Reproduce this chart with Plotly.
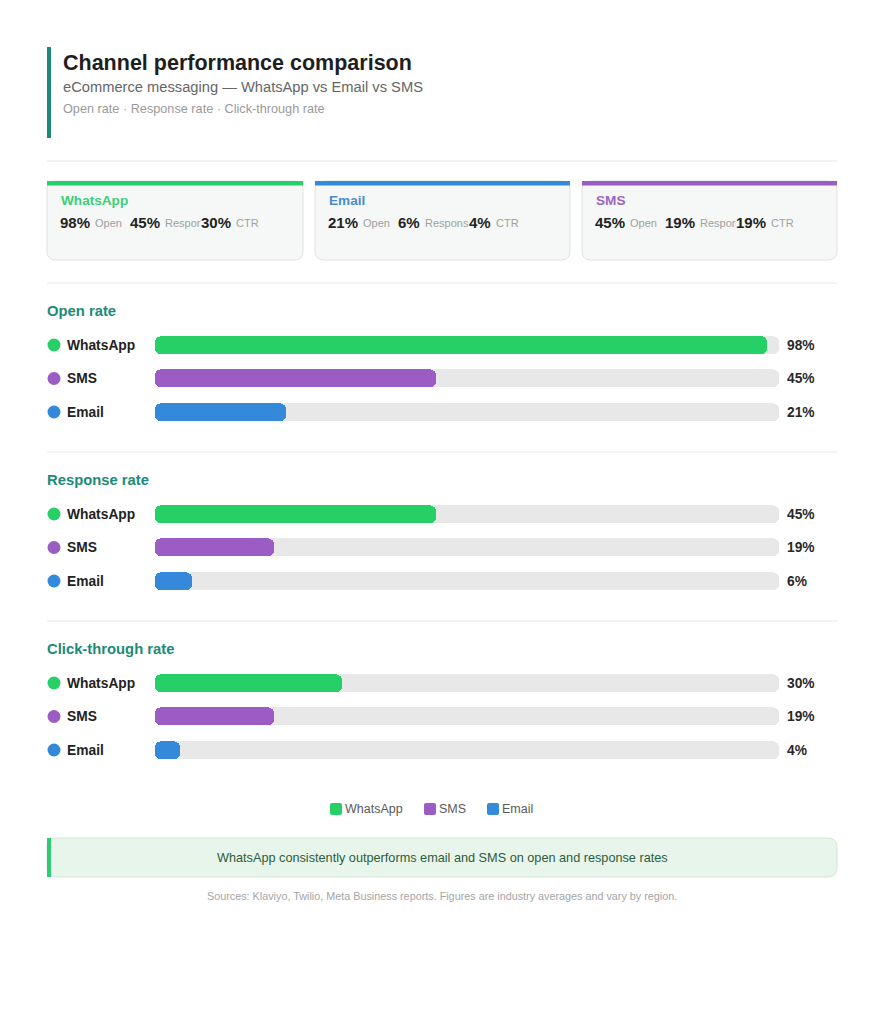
import plotly.graph_objects as go

# ---------------- data ----------------
channels = ["WhatsApp", "SMS", "Email"]           # display order in bar sections
card_channels = ["WhatsApp", "Email", "SMS"]      # order of summary cards
metrics = ["Open rate", "Response rate", "Click-through rate"]
metric_short = ["Open", "Response", "CTR"]
open_rate = {"WhatsApp": 98, "SMS": 45, "Email": 21}
response_rate = {"WhatsApp": 45, "SMS": 19, "Email": 6}
ctr_rate = {"WhatsApp": 30, "SMS": 19, "Email": 4}
metric_values = [open_rate, response_rate, ctr_rate]

title = "Channel performance comparison"
subtitle = "eCommerce messaging — WhatsApp vs Email vs SMS"
subsub = "Open rate · Response rate · Click-through rate"
callout = "WhatsApp consistently outperforms email and SMS on open and response rates"
source = "Sources: Klaviyo, Twilio, Meta Business reports. Figures are industry averages and vary by region."

# ---------------- style ----------------
W, H = 884, 1024
FONT = "Liberation Sans, Arial, sans-serif"
colors = {"WhatsApp": "#27cf67", "SMS": "#9b5cc4", "Email": "#3589db"}
title_colors = {"WhatsApp": "#3ccf78", "SMS": "#9a66c2", "Email": "#4a8bcb"}
TEAL = "#1d8a78"
TRACK = "#e8e8e8"
CARD_BG = "#f5f8f6"


def px(x):
    return x / W


def py(y):
    return 1 - y / H


def rrect(x0, y0, x1, y1, r):
    """rounded rect path in paper coords from pixel box"""
    pts = [
        f"M {px(x0 + r)} {py(y0)}",
        f"L {px(x1 - r)} {py(y0)}",
        f"Q {px(x1)} {py(y0)} {px(x1)} {py(y0 + r)}",
        f"L {px(x1)} {py(y1 - r)}",
        f"Q {px(x1)} {py(y1)} {px(x1 - r)} {py(y1)}",
        f"L {px(x0 + r)} {py(y1)}",
        f"Q {px(x0)} {py(y1)} {px(x0)} {py(y1 - r)}",
        f"L {px(x0)} {py(y0 + r)}",
        f"Q {px(x0)} {py(y0)} {px(x0 + r)} {py(y0)}",
        "Z",
    ]
    return " ".join(pts)


fig = go.Figure()
shapes = []
ann = []


def text(x, y, s, size, color, bold=False, anchor="left", **kw):
    if anchor == "left":
        x = x - 2
    ann.append(dict(
        x=px(x), y=py(y), xref="paper", yref="paper", text=(f"<b>{s}</b>" if bold else s),
        showarrow=False, xanchor=anchor, yanchor="middle",
        font=dict(family=FONT, size=size, color=color), **kw))


# header
shapes.append(dict(type="rect", xref="paper", yref="paper", x0=px(47), x1=px(51), y0=py(47), y1=py(138),
                   fillcolor=TEAL, line=dict(width=0)))
text(63, 63, title, 21.5, "#1e1e1e", bold=True)
text(63, 87, subtitle, 14.7, "#666666")
text(63, 109, subsub, 12.7, "#9a9a9a")

# dividers
for yy in [161, 283, 452, 621]:
    shapes.append(dict(type="line", xref="paper", yref="paper", x0=px(47), x1=px(837), y0=py(yy), y1=py(yy),
                       line=dict(color="#e6e6e6", width=1)))

# cards
card_x = [(47, 303), (315, 570), (582, 837)]
for (x0, x1), ch in zip(card_x, card_channels):
    shapes.append(dict(type="path", xref="paper", yref="paper", path=rrect(x0, 181, x1, 260, 9),
                       fillcolor=CARD_BG, line=dict(color="#dfe3e0", width=1)))
    shapes.append(dict(type="rect", xref="paper", yref="paper", x0=px(x0), x1=px(x1), y0=py(181), y1=py(185.5),
                       fillcolor=colors[ch], line=dict(width=0)))
    text(x0 + 14, 200, ch, 13.6, title_colors[ch], bold=True)
    offs = [14, 84, 155]
    for k, (mv, lab) in enumerate(zip(metric_values, metric_short)):
        v = mv[ch]
        vx = x0 + offs[k]
        vstr = f"{v}%"
        text(vx, 222, vstr, 15, "#222222", bold=True, bgcolor=CARD_BG, borderpad=0)
        wv = 8.4 * (len(vstr) - 1) + 13.4
        text(vx + wv + 4, 222.5, lab, 11, "#a0a0a0")

# bar sections
section_titles_y = [311, 480, 649]
row_top = [328.25, 497.25, 666.25]
ROW = 33.5
for s, (mname, mv) in enumerate(zip(metrics, metric_values)):
    xa = "x" if s == 0 else f"x{s + 1}"
    ya = "y" if s == 0 else f"y{s + 1}"
    text(47, section_titles_y[s], mname, 14.8, TEAL, bold=True)
    # track (drawn from its end back to zero)
    fig.add_trace(go.Bar(
        x=[-100] * len(channels), base=[100] * len(channels), y=channels, orientation="h",
        xaxis=xa, yaxis=ya,
        marker=dict(color=TRACK, cornerradius=6, line=dict(width=0)), width=0.54,
        showlegend=False, hoverinfo="skip"))
    for ch in channels:
        v = mv[ch]
        fig.add_trace(go.Bar(
            x=[-v], base=[v], y=[ch], orientation="h", xaxis=xa, yaxis=ya, name=ch,
            marker=dict(color=colors[ch], cornerradius=6, line=dict(width=0)), width=0.54,
            showlegend=False, hovertemplate=f"{ch}: {v}%<extra>{mname}</extra>"))
        ann.append(dict(x=1, xref=f"{xa} domain", y=ch, yref=ya, text=f"<b>{v}%</b>",
                        xanchor="left", yanchor="middle", xshift=6, showarrow=False,
                        font=dict(family=FONT, size=13.8, color="#2a2a2a")))
    for i, ch in enumerate(channels):
        cy = row_top[s] + ROW / 2 + ROW * i
        shapes.append(dict(type="circle", xref="paper", yref="paper",
                           x0=px(47.5), x1=px(60.5), y0=py(cy - 6.5), y1=py(cy + 6.5),
                           fillcolor=colors[ch], line=dict(width=0)))
        text(67, cy, ch, 13.8, "#222222", bold=True)
    dom_y = [py(row_top[s] + 3 * ROW), py(row_top[s])]
    fig.update_layout(**{
        ("xaxis" if s == 0 else f"xaxis{s + 1}"): dict(domain=[px(155), px(779)], range=[0, 100], visible=False,
                                                      fixedrange=True),
        ("yaxis" if s == 0 else f"yaxis{s + 1}"): dict(domain=dom_y, range=[2.5, -0.5], visible=False,
                                                      categoryorder="array", categoryarray=channels, fixedrange=True),
    })

# legend (manual)
leg_x = [330, 424, 487]
for ch, lx in zip(channels, leg_x):
    shapes.append(dict(type="path", xref="paper", yref="paper", path=rrect(lx, 803, lx + 12, 815, 2),
                       fillcolor=colors[ch], line=dict(width=0)))
    text(lx + 15, 809, ch, 12.5, "#5a5a5a")

# callout
shapes.append(dict(type="path", xref="paper", yref="paper", path=rrect(47, 838, 837, 877, 9),
                   fillcolor="#e8f5ea", line=dict(color="#d3e8d8", width=1)))
shapes.append(dict(type="rect", xref="paper", yref="paper", x0=px(47), x1=px(51), y0=py(838), y1=py(877),
                   fillcolor="#2ecc71", line=dict(width=0)))
text(442, 857.5, callout, 12.7, "#2b5c3b", anchor="center")
text(442, 896, source, 10.8, "#a5a5a5", anchor="center")

fig.update_layout(
    width=W, height=H, margin=dict(l=0, r=0, t=0, b=0),
    paper_bgcolor="white", plot_bgcolor="white",
    barmode="overlay", bargap=0, showlegend=False,
    shapes=shapes, annotations=ann,
    font=dict(family=FONT),
)
fig.write_html("out.html", config={"displayModeBar": False})
